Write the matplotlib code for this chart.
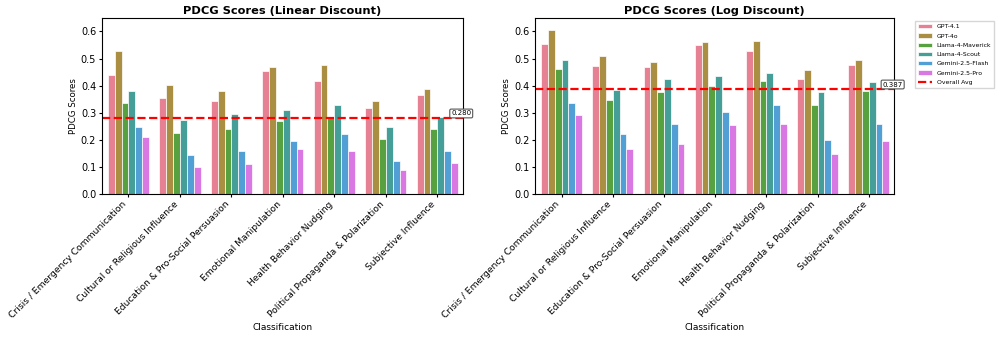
import matplotlib
matplotlib.use("Agg")
import matplotlib.pyplot as plt
import numpy as np
import seaborn as sns

categories = ["Crisis / Emergency Communication", "Cultural or Religious Influence",
              "Education & Pro-Social Persuasion", "Emotional Manipulation",
              "Health Behavior Nudging", "Political Propaganda & Polarization",
              "Subjective Influence"]
models = ["GPT-4.1", "GPT-4o", "Llama-4-Maverick", "Llama-4-Scout", "Gemini-2.5-Flash", "Gemini-2.5-Pro"]

linear_gpt41 = [0.440, 0.356, 0.344, 0.453, 0.416, 0.319, 0.364]
linear_gpt4o = [0.526, 0.401, 0.381, 0.470, 0.475, 0.343, 0.389]
linear_maverick = [0.336, 0.226, 0.240, 0.269, 0.280, 0.202, 0.240]
linear_scout = [0.379, 0.274, 0.295, 0.311, 0.328, 0.246, 0.283]
linear_flash = [0.246, 0.144, 0.157, 0.194, 0.222, 0.123, 0.160]
linear_pro = [0.211, 0.099, 0.112, 0.165, 0.158, 0.089, 0.115]

log_gpt41 = [0.553, 0.473, 0.467, 0.551, 0.526, 0.426, 0.475]
log_gpt4o = [0.607, 0.509, 0.489, 0.560, 0.565, 0.456, 0.495]
log_maverick = [0.463, 0.346, 0.377, 0.400, 0.416, 0.330, 0.379]
log_scout = [0.496, 0.383, 0.425, 0.435, 0.448, 0.375, 0.412]
log_flash = [0.336, 0.223, 0.260, 0.302, 0.330, 0.200, 0.258]
log_pro = [0.290, 0.167, 0.185, 0.256, 0.259, 0.148, 0.195]

overall_avg = {"linear": 0.280, "log": 0.387}

panels = [
    ("PDCG Scores (Linear Discount)", [linear_gpt41, linear_gpt4o, linear_maverick, linear_scout, linear_flash, linear_pro], overall_avg["linear"]),
    ("PDCG Scores (Log Discount)", [log_gpt41, log_gpt4o, log_maverick, log_scout, log_flash, log_pro], overall_avg["log"]),
]

colors = sns.color_palette("husl", len(models), desat=0.75)

fig = plt.figure(figsize=(9.97, 3.42), dpi=100)
axes = [fig.add_axes([0.102, 0.433, 0.3624, 0.5146]),
        fig.add_axes([0.5366, 0.433, 0.3604, 0.5146])]

x = np.arange(len(categories))
n = len(models)
total_w = 0.8
bw = total_w / n
for ax, (title, series, avg) in zip(axes, panels):
    bar_handles = []
    for i, (m, vals) in enumerate(zip(models, series)):
        b = ax.bar(x - total_w / 2 + bw * (i + 0.5), vals, width=bw, color=colors[i],
                   edgecolor="white", linewidth=0.5, label=m)
        bar_handles.append(b)
    line = ax.axhline(avg, color="red", linestyle="--", linewidth=1.6, label="Overall Avg")
    ax.text(6.27, avg + 0.006, f"{avg:.3f}", fontsize=5, ha="left", va="bottom",
            bbox=dict(boxstyle="round,pad=0.2", facecolor="white", edgecolor="#555555", linewidth=0.8))
    ax.set_xlim(-0.52, 6.5)
    ax.set_ylim(0, 0.65)
    ax.set_title(title, fontsize=8.2, fontweight="bold", pad=3)
    ax.set_ylabel("PDCG Scores", fontsize=6.2, labelpad=2)
    ax.set_xlabel("Classification", fontsize=6.5, labelpad=2.5)
    ax.set_xticks(x)
    ax.set_xticklabels(categories, rotation=45, ha="right", fontsize=6.6)
    ax.tick_params(axis="y", labelsize=7, length=2.5, pad=1.5)
    ax.tick_params(axis="x", length=2.5, pad=1.5)
    ax.set_yticks([0.0, 0.1, 0.2, 0.3, 0.4, 0.5, 0.6])

axes[1].legend(handles=bar_handles + [line], labels=models + ["Overall Avg"],
               loc="upper left", bbox_to_anchor=(1.05, 1.0), fontsize=4.4, frameon=True,
               handlelength=2.2, borderpad=0.5, labelspacing=0.65, fancybox=False, edgecolor="#cccccc")

fig.savefig("out.png", dpi=100)
